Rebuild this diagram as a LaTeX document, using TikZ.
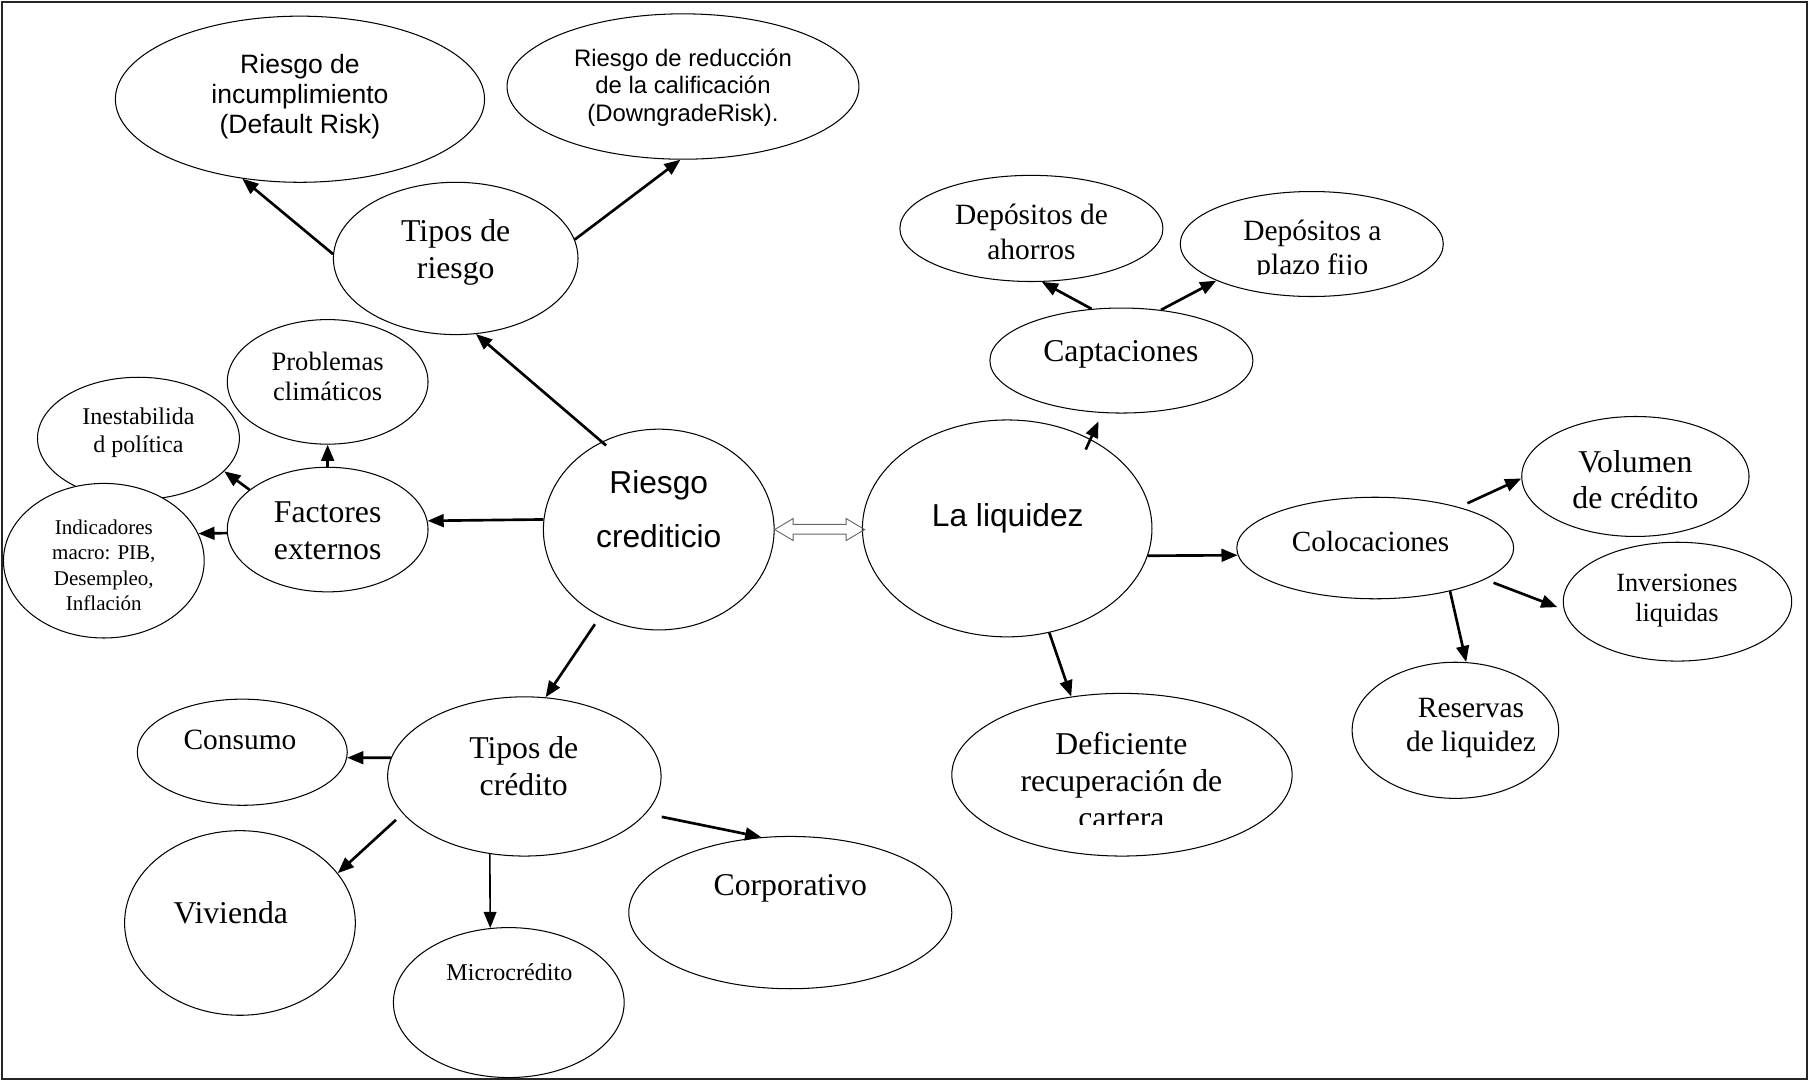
\documentclass[tikz,border=0pt]{standalone}
\usepackage{fontspec}
\setmainfont{Liberation Serif}
\newfontfamily\arialf{Liberation Sans}
\usepackage{tikz}
\usetikzlibrary{arrows.meta}
\usetikzlibrary{shapes.geometric}
\tikzset{>={Triangle[length=14pt,width=11pt]},
  bubble/.style={draw,ellipse,fill=white,line width=0.9pt,inner sep=0pt},
  arr/.style={->,line width=2.3pt},
  lbl/.style={align=center,inner sep=0pt},
  tnr/.style 2 args={lbl,font=\fontsize{#1}{#2}\selectfont},
  ari/.style 2 args={lbl,font=\arialf\fontsize{#1}{#2}\selectfont}}

\begin{document}
\begin{tikzpicture}[x=1pt,y=-1pt]

  \useasboundingbox (0,0) rectangle (1568,937);

  % riesgo crediticio
  \node[bubble,minimum width=320pt,minimum height=144pt] (ri) at (260,86) {};
  \node[bubble,minimum width=305pt,minimum height=126pt] (rr) at (592,75) {};
  \node[bubble,minimum width=212pt,minimum height=132pt] (tr) at (395,224) {};
  \node[bubble,minimum width=174pt,minimum height=108pt] (pc) at (284,331) {};
  \node[bubble,minimum width=175pt,minimum height=106pt] (ip) at (120,380) {};
  \node[bubble,minimum width=174pt,minimum height=134pt] (im) at (90,486) {};
  \node[bubble,minimum width=174pt,minimum height=108pt] (fe) at (284,459) {};
  \node[bubble,minimum width=200pt,minimum height=174pt] (rc) at (571,459) {};

  % la liquidez
  \node[bubble,minimum width=251pt,minimum height=188pt] (lq) at (873,458) {};
  \node[bubble,minimum width=228pt,minimum height=91pt] (ca) at (972,312.5) {};
  \node[bubble,minimum width=228pt,minimum height=92pt] (da) at (894,198) {};
  \node[bubble,minimum width=228pt,minimum height=91pt] (dp) at (1137,211.5) {};
  \node[bubble,minimum width=240pt,minimum height=88pt] (cl) at (1192,475) {};
  \node[bubble,minimum width=197pt,minimum height=104pt] (vc) at (1417.5,413) {};
  \node[bubble,minimum width=198pt,minimum height=103pt] (il) at (1454,521.5) {};
  \node[bubble,minimum width=179pt,minimum height=118pt] (rl) at (1261.5,633) {};
  \node[bubble,minimum width=295pt,minimum height=141pt] (df) at (972.5,671.5) {};

  % tipos de credito
  \node[bubble,minimum width=237pt,minimum height=138pt] (tc) at (454.5,673) {};
  \node[bubble,minimum width=182pt,minimum height=92pt] (co) at (210,652) {};
  \node[bubble,minimum width=200pt,minimum height=160pt] (vi) at (208,800) {};
  \node[bubble,minimum width=200pt,minimum height=130pt] (mi) at (441,869) {};
  \node[bubble,minimum width=280pt,minimum height=132pt] (cp) at (685,791) {};

  % texts
  \node[ari={23}{26}] (ri-t) at (260,83.5) {Riesgo de\\incumplimiento\\(Default Risk)};
  \node[ari={20.7}{24}] (rr-t) at (592,76) {Riesgo de reducción\\de la calificación\\(DowngradeRisk).};
  \node[tnr={27.5}{32}] (tr-t) at (395,219) {Tipos de\\riesgo};
  \node[tnr={23}{26}] (pc-t) at (284,326) {Problemas\\climáticos};
  \node[tnr={20.8}{24}] (ip-t) at (120,375) {Inestabilida\\d política};
  \begin{scope}
    \clip (0,440) rectangle (180,528);
    \node[tnr={18.2}{22}] (im-t) at (90,490) {Indicadores\\macro: PIB,\\Desempleo,\\Inflación};
  \end{scope}
  \node[tnr={27.5}{32}] (fe-t) at (284,460) {Factores\\externos};
  \node[ari={27.5}{47}] (rc-t) at (571,441.5) {Riesgo\\crediticio};
  \node[ari={27.5}{32}] (lq-t) at (873.5,449) {La liquidez};
  \node[tnr={27.5}{32}] (ca-t) at (971.5,307) {Captaciones};
  \node[tnr={25.5}{30}] (da-t) at (894,201) {Depósitos de\\ahorros};
  \begin{scope}
    \clip (1030,170) rectangle (1250,237.5);
    \node[tnr={25.5}{29}] (dp-t) at (1137.5,217) {Depósitos a\\plazo fijo};
  \end{scope}
  \node[tnr={25.3}{30}] (cl-t) at (1188,469) {Colocaciones};
  \node[tnr={27.5}{31}] (vc-t) at (1417.5,415.5) {Volumen\\de crédito};
  \node[tnr={22.8}{26}] (il-t) at (1453.5,521) {Inversiones\\liquidas};
  \node[tnr={25.5}{30}] (rl-t) at (1275,631) {Reservas\\de liquidez};
  \begin{scope}
    \clip (830,620) rectangle (1115,715);
    \node[tnr={27.5}{32}] (df-t) at (972,676.5) {Deficiente\\recuperación de\\cartera};
  \end{scope}
  \node[tnr={27.5}{32}] (tc-t) at (454,664) {Tipos de\\crédito};
  \node[tnr={25.5}{30}] (co-t) at (208,641) {Consumo};
  \node[tnr={27.5}{32}] (vi-t) at (200,791) {Vivienda};
  \node[tnr={20.9}{24}] (mi-t) at (441.5,843) {Microcrédito};
  \node[tnr={27.5}{32}] (cp-t) at (685,770) {Corporativo};

  % arrows
  \draw[arr] (tr.178) -- (ri.234);
  \draw[arr] (tr.9) -- (rr.268);
  \draw[arr,shorten <=-5pt] (rc.123) -- (tr.285);
  \draw[arr] (rc.175) -- (fe.5);
  \draw[arr] (fe.90) -- (pc.270);
  \draw[arr] (fe.153) -- (ip.339);
  \draw[arr] (fe.182) -- (im.16);
  \draw[arr,shorten <=8pt] (rc.236) -- (tc.75);
  \draw[arr] (tc.172) -- (co.357);
  \draw[arr,shorten <=8pt] (tc.197) -- (vi.27);
  \draw[arr,line width=1.4pt] (tc.246) -- (mi.104);
  \draw[arr,shorten <=14pt] (tc.343) -- (cp.111);
  \draw[arr,shorten <=-10pt,shorten >=8pt] (lq.47) -- (ca.250);
  \draw[arr] (ca.120) -- (da.281);
  \draw[arr] (ca.52) -- (dp.201);
  \draw[arr] (lq.349) -- (cl.183);
  \draw[arr] (lq.292) -- (df.123);
  \draw[arr,shorten <=8pt] (cl.26) -- (vc.181);
  \draw[arr,shorten <=8pt,shorten >=6pt] (cl.344) -- (il.184);
  \draw[arr] (cl.330) -- (rl.81);

  % open double arrow
  \draw[line width=0.8pt,black!60] (rc.east) -- ++(16,-9.5) -- ++(0,5) -- ++(46,0)
    -- ++(0,-5) -- ++(16,9.5) -- ++(-16,9.5) -- ++(0,-5.5) -- ++(-46,0)
    -- ++(0,5.5) -- cycle;

  %\draw [thin] (0,0) rectangle (1568,937);
  \draw[line width=2pt,black!85] (2,1.5) rectangle (1566.5,935.5);

\end{tikzpicture}
\end{document}
